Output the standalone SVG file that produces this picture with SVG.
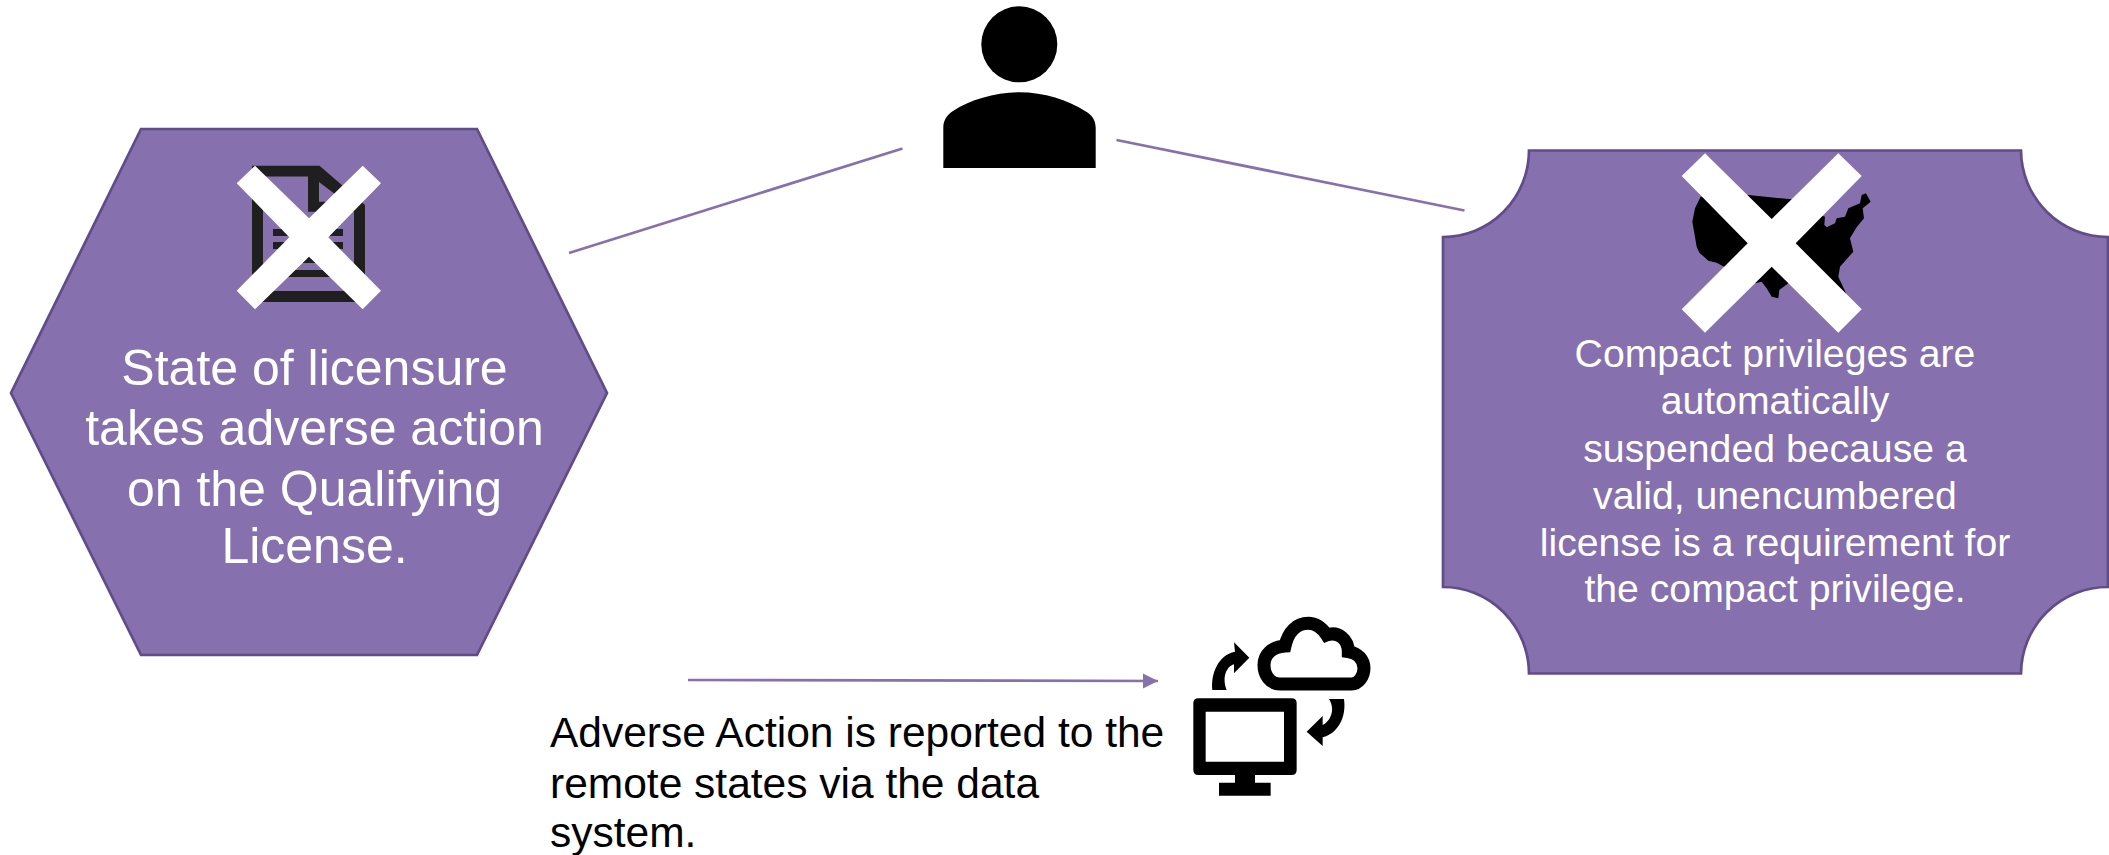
<svg xmlns="http://www.w3.org/2000/svg" width="2109" height="855" viewBox="0 0 2109 855">
<style>
.shape{fill:#8670AE;stroke:#614C8A;stroke-width:2.7}
.conn{fill:none;stroke:#8670AE;stroke-width:2.7}
.cross{fill:#fff}
text{font-family:"Liberation Sans",Arial,sans-serif}
.hex{font-size:50px;fill:#fff;text-anchor:middle}
.box{font-size:39.2px;fill:#fff;text-anchor:middle}
.cap{font-size:42.5px;fill:#000}
</style>
<defs>
<marker id="arrow" markerUnits="userSpaceOnUse" markerWidth="16" markerHeight="16" refX="15" refY="8" orient="auto">
<path d="M0 0.5L15 8L0 15.5Z" fill="#8670AE"/>
</marker>
</defs>
<rect width="2109" height="855" fill="#fff"/>
<g id="connectors">
<line class="conn" x1="569" y1="253" x2="902.500" y2="148.500"/>
<line class="conn" x1="1116.500" y1="140" x2="1464.500" y2="210.500"/>
<line class="conn" x1="688" y1="680" x2="1158" y2="681" marker-end="url(#arrow)"/>
</g>
<g id="node-state">
<polygon class="shape" points="141,129 477,129 607,393 477,655 141,655 11,393"/>
<path fill="#1f1f1f" fill-rule="evenodd" d="M252 165.700H319.500L365 205V302H252ZM263 176.500V291H354V211.700H308V176.500ZM319 182V201.700H345Z"/>
<rect x="273" y="229" width="70" height="7" fill="#1f1f1f"/>
<rect x="273" y="242" width="70" height="7" fill="#1f1f1f"/>
<rect x="273" y="257" width="70" height="6" fill="#1f1f1f"/>
<rect x="273" y="270" width="70" height="7" fill="#1f1f1f"/>
<polygon class="cross" points="255,165.700 309,218.300 362.700,165.700 381,183.300 328.300,237.300 381,290.700 362.700,309.300 309,256.700 255,309.300 236.700,290.700 289.300,237.300 236.700,183.300"/>
<text class="hex" x="314.500" y="385">State of licensure</text>
<text class="hex" x="314.500" y="445">takes adverse action</text>
<text class="hex" x="314.500" y="506">on the Qualifying</text>
<text class="hex" x="314.500" y="563">License.</text>
</g>
<g id="node-person">
<circle cx="1019.300" cy="44.300" r="38"/>
<path d="M943.300 168V128C943.300 120 947 115 953 111C970 100 995 92.300 1019.500 92.300C1044 92.300 1068 100 1085 111C1092 115 1095.700 120 1095.700 128V168Z"/>
</g>
<g id="node-compact">
<path class="shape" d="M1529 150.500H2021A87 87 0 0 0 2108 237V587A87 87 0 0 0 2021 673.500H1529A86 87 0 0 0 1443 587V237A86 87 0 0 0 1529 150.500Z"/>
<path transform="translate(1660 140) scale(.3333)" d="M122 170L105 205L97 245L110 320L118 338L145 362L170 368L195 382L285 430L305 425L320 445L335 470L355 475L358 450L385 430L480 430L545 470L558 460L535 410L540 380L580 335L570 295L590 262L612 235L608 205L632 185L618 160L605 165L600 190L565 205L555 230L530 235L525 250L500 262L493 255L495 230L480 225L395 178L265 165Z"/>
<polygon class="cross" points="1705,153.300 1771.700,219 1838.300,153.300 1861.700,176 1795.700,243.300 1861.700,309.300 1838.300,332.700 1771.700,266.700 1705,332.700 1681.700,309.300 1747.700,243.300 1681.700,176"/>
<text class="box" x="1775" y="367">Compact privileges are</text>
<text class="box" x="1775" y="414">automatically</text>
<text class="box" x="1775" y="462">suspended because a</text>
<text class="box" x="1775" y="509">valid, unencumbered</text>
<text class="box" x="1775" y="556">license is a requirement for</text>
<text class="box" x="1775" y="602">the compact privilege.</text>
</g>
<g id="node-data-system">
<g transform="translate(1180 610) scale(.3333)">
<path fill-rule="evenodd" d="M55 265H335Q350 265 350 280V480Q350 495 335 495H225V518H272V557H117V518H165V495H55Q40 495 40 480V280Q40 265 55 265ZM77 305V455H312V305Z"/>
<path fill="none" stroke="#000" stroke-width="39" d="M300 222C270 222 252 195 252 165C252 135 275 110 315 108C325 65 350 40 385 40C415 40 430 60 440 75C475 62 505 90 505 125C535 130 552 150 552 175C552 200 535 222 515 222Z"/>
<path d="M97 240C92 190 115 135 165 125L162 97L208 143L162 190L162 163C140 170 125 200 140 240Z"/>
<path d="M492 267C500 320 475 370 428 382L428 408L380 365L428 318L428 345C450 335 468 300 447 267Z"/>
</g>
<text class="cap" x="550" y="747">Adverse Action is reported to the</text>
<text class="cap" x="550" y="798">remote states via the data</text>
<text class="cap" x="550" y="847">system.</text>
</g>
</svg>
